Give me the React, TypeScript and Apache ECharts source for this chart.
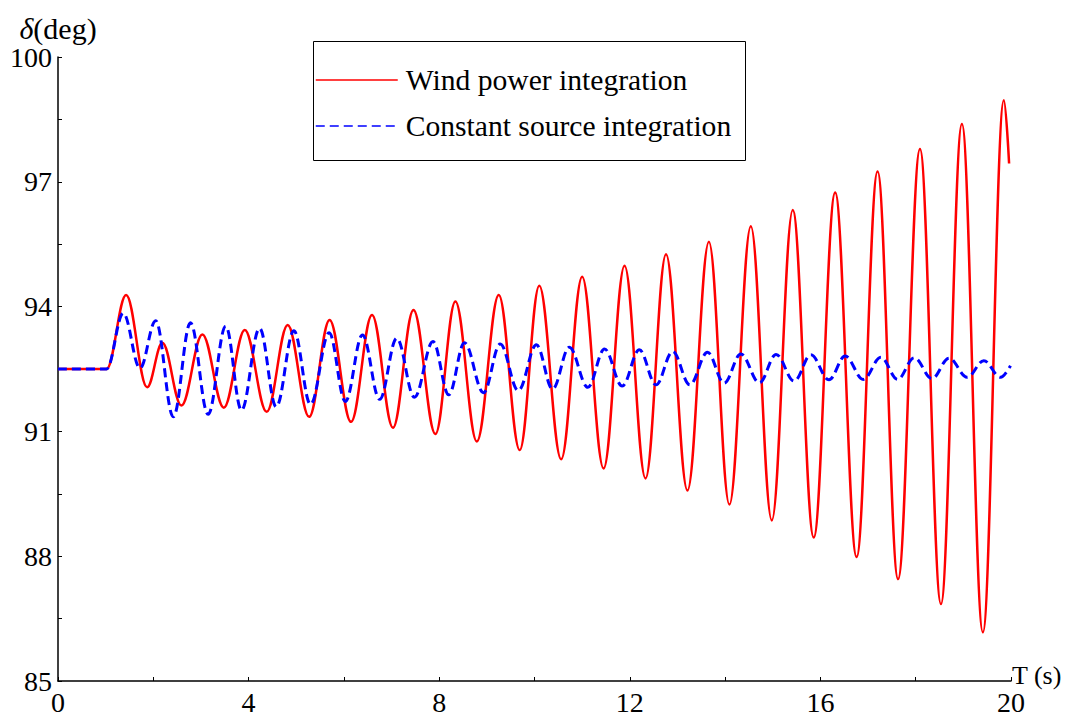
import React, { useEffect, useRef } from "react";
import * as echarts from "echarts";

// ---- data ----
const seriesNames = ["Wind power integration", "Constant source integration"];

// wind power integration: time (s) of flat start, then alternating peaks / troughs
const windT = [
  0, 1.02, 1.43, 1.87, 2.19, 2.59, 3.03, 3.48, 3.92, 4.38, 4.82, 5.27, 5.7, 6.15,
  6.59, 7.03, 7.46, 7.92, 8.34, 8.79, 9.25, 9.69, 10.1, 10.56, 11.0, 11.45, 11.89,
  12.33, 12.76, 13.21, 13.66, 14.09, 14.54, 14.98, 15.42, 15.86, 16.31, 16.76,
  17.2, 17.63, 18.09, 18.53, 18.97, 19.41, 19.85, 19.96,
];
const windV = [
  92.5, 92.5, 94.28, 92.06, 93.13, 91.62, 93.33, 91.57, 93.44, 91.47, 93.56, 91.35, 93.68, 91.23,
  93.8, 91.09, 93.92, 90.94, 94.12, 90.76, 94.28, 90.55, 94.5, 90.33, 94.72, 90.11, 94.98,
  89.87, 95.26, 89.58, 95.56, 89.24, 95.93, 88.86, 96.32, 88.45, 96.74, 87.98,
  97.25, 87.45, 97.79, 86.85, 98.39, 86.17, 98.96, 97.44,
];

// constant source integration
const constT = [
  0, 1.02, 1.37, 1.72, 2.05, 2.42, 2.78, 3.15, 3.52, 3.85, 4.23, 4.58, 4.95, 5.3,
  5.69, 6.03, 6.39, 6.75, 7.11, 7.48, 7.87, 8.2, 8.53, 8.93, 9.28, 9.66, 10.04,
  10.38, 10.73, 11.12, 11.47, 11.84, 12.2, 12.55, 12.9, 13.26, 13.63, 13.98, 14.33,
  14.72, 15.07, 15.45, 15.8, 16.18, 16.52, 16.9, 17.27, 17.62, 17.97, 18.34, 18.7,
  19.08, 19.43, 19.78, 19.99,
];
const constV = [
  92.5, 92.5, 93.84, 92.52, 93.66, 91.35, 93.61, 91.41, 93.53, 91.51, 93.48, 91.59, 93.42, 91.65,
  93.37, 91.72, 93.32, 91.77, 93.24, 91.82, 93.16, 91.88, 93.13, 91.93, 93.1, 91.98, 93.08,
  92.02, 93.02, 92.06, 92.98, 92.09, 92.96, 92.12, 92.92, 92.12, 92.9, 92.16, 92.86,
  92.17, 92.85, 92.21, 92.84, 92.24, 92.81, 92.25, 92.78, 92.25, 92.77, 92.27, 92.76,
  92.3, 92.7, 92.3, 92.58,
];

const xTicks = [0, 2, 4, 6, 8, 10, 12, 14, 16, 18, 20];
const xLabels = [0, 4, 8, 12, 16, 20];
const yTicks = [85, 86.5, 88, 89.5, 91, 92.5, 94, 95.5, 97, 98.5, 100];
const yLabels = [85, 88, 91, 94, 97, 100];

const FONT = "'Liberation Serif', 'Times New Roman', serif";

function zip(t: number[], v: number[]) {
  return t.map((x, i) => [x, v[i]]);
}

export default function App() {
  const ref = useRef<HTMLDivElement>(null);
  useEffect(() => {
    if (!ref.current) return;
    const chart = echarts.init(ref.current, undefined, { renderer: "svg" });
    chart.setOption({
      animation: false,
      backgroundColor: "#fff",
      textStyle: { fontFamily: FONT },
      grid: { left: 58, right: 56, top: 57, bottom: 35, containLabel: false, outerBoundsMode: "none" },
      xAxis: {
        type: "value",
        min: 0,
        max: 20,
        axisLine: { onZero: false, lineStyle: { color: "#000", width: 1.5 } },
        axisTick: { inside: true, length: 4, customValues: xTicks, lineStyle: { color: "#000", width: 1 } },
        axisLabel: { customValues: xLabels, margin: 10, lineHeight: 22, fontFamily: FONT, fontSize: 28, color: "#000" },
        splitLine: { show: false },
      },
      yAxis: {
        type: "value",
        min: 85,
        max: 100,
        name: "{it|δ}(deg)",
        nameLocation: "end",
        nameGap: 18,
        nameMoveOverlap: false,
        nameTextStyle: {
          fontFamily: FONT,
          fontSize: 30,
          lineHeight: 22,
          color: "#000",
          rich: { it: { fontFamily: FONT, fontSize: 30, lineHeight: 22, fontStyle: "italic", color: "#000" } },
        },
        axisLine: { show: true, lineStyle: { color: "#000", width: 1.5 } },
        axisTick: { show: true, inside: true, length: 4, customValues: yTicks, lineStyle: { color: "#000", width: 1 } },
        axisLabel: { customValues: yLabels, margin: 6, lineHeight: 22, fontFamily: FONT, fontSize: 28, color: "#000" },
        splitLine: { show: false },
      },
      legend: {
        orient: "vertical",
        left: 315,
        top: 65,
        padding: 0,
        itemWidth: 82,
        itemHeight: 14,
        itemGap: 16,
        textStyle: { fontFamily: FONT, fontSize: 29.6, color: "#000", lineHeight: 30, padding: [0, 0, 0, 3] },
        lineStyle: { width: 1.5 },
        itemStyle: { opacity: 0 },
        data: seriesNames,
      },
      graphic: [
        {
          type: "rect",
          z: 0,
          shape: { x: 313.5, y: 41.5, width: 432, height: 119 },
          style: { fill: "none", stroke: "#000", lineWidth: 1 },
        },
        {
          type: "text",
          x: 1012,
          y: 675,
          style: {
            text: "T (s)",
            fontFamily: FONT,
            fontSize: 26,
            lineHeight: 20,
            fill: "#000",
            textAlign: "left",
            textVerticalAlign: "middle",
          },
        },
      ],
      series: [
        {
          name: seriesNames[0],
          type: "line",
          data: zip(windT, windV),
          showSymbol: false,
          symbol: "none",
          smooth: 0.37,
          smoothMonotone: "x",
          lineStyle: { color: "#ff0000", width: 2.5 },
          itemStyle: { color: "#ff0000" },
          z: 2,
        },
        {
          name: seriesNames[1],
          type: "line",
          data: zip(constT, constV),
          showSymbol: false,
          symbol: "none",
          smooth: 0.37,
          smoothMonotone: "x",
          lineStyle: { color: "#0000ff", width: 3, type: [9, 5] },
          itemStyle: { color: "#0000ff" },
          z: 3,
        },
      ],
    });
    return () => chart.dispose();
  }, []);
  return (
    <div
      ref={ref}
      style={{ position: "fixed", left: 0, top: 0, width: 1067, height: 716, background: "#fff" }}
    />
  );
}
